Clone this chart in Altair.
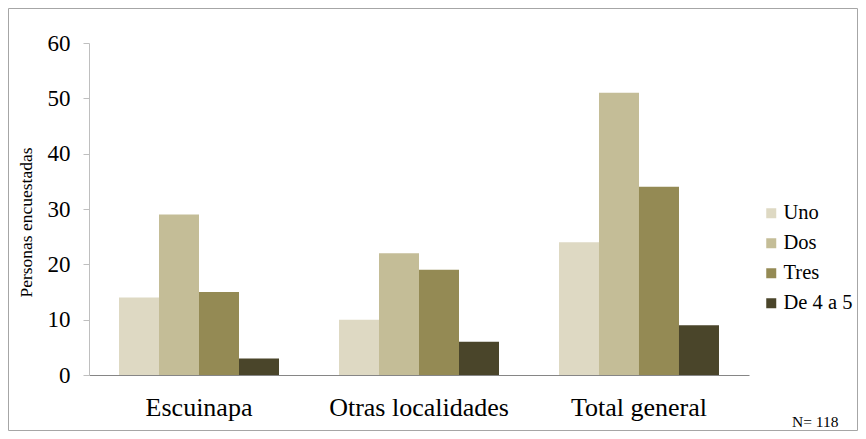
import altair as alt
import pandas as pd

groups = ["Escuinapa", "Otras localidades", "Total general"]
series = ["Uno", "Dos", "Tres", "De 4 a 5"]
uno = [14, 10, 24]
dos = [29, 22, 51]
tres = [15, 19, 34]
cuatro_cinco = [3, 6, 9]
y_ticks = [0, 10, 20, 30, 40, 50, 60]
colors = ["#DED9C3", "#C4BD97", "#948A54", "#4A452A"]
y_title = "Personas encuestadas"
note = "N= 118"

rows = []
for i, g in enumerate(groups):
    for s, vals in zip(series, [uno, dos, tres, cuatro_cinco]):
        rows.append({"grupo": g, "serie": s, "valor": vals[i]})
df = pd.DataFrame(rows)

FONT = "Liberation Serif"

bars = alt.Chart(df).mark_bar().encode(
    x=alt.X("grupo:N", sort=groups,
            scale=alt.Scale(paddingInner=0.2727, paddingOuter=0.1364),
            axis=alt.Axis(title=None, labelAngle=0, ticks=False, tickSize=0,
                          labelPadding=19, labelFontSize=26, labelFont=FONT,
                          labelColor="#000000", domainColor="#868686",
                          domainWidth=1.2)),
    xOffset=alt.XOffset("serie:N", sort=series,
                        scale=alt.Scale(paddingInner=0, paddingOuter=0)),
    y=alt.Y("valor:Q", scale=alt.Scale(domain=[0, 60], nice=False),
            axis=alt.Axis(title=y_title, values=y_ticks,
                          grid=False, tickSize=6, tickColor="#BFBFBF",
                          domainColor="#BFBFBF", labelPadding=13,
                          labelFontSize=23, labelFont=FONT, labelColor="#000000",
                          titleFontSize=17.5, titleFontWeight="normal", titleFont=FONT,
                          titleColor="#000000", titleX=-58, titleY=179,
                          titleBaseline="alphabetic")),
    color=alt.Color("serie:N", sort=series,
                    scale=alt.Scale(domain=series, range=colors),
                    legend=alt.Legend(title=None, orient="none", legendX=672, legendY=160,
                                      symbolType="square", symbolSize=100,
                                      symbolStrokeWidth=0, labelFontSize=20.5,
                                      labelColor="#000000", labelFont=FONT,
                                      rowPadding=9, labelOffset=2, padding=0)),
)

meta = pd.DataFrame({"t": [note]})

note_text = alt.Chart(meta).mark_text(
    align="left", baseline="alphabetic", fontSize=15.5, font=FONT, color="#000000"
).encode(x=alt.value(703), y=alt.value(384), text="t:N")

border = alt.Chart(meta).mark_rect(
    fillOpacity=0, stroke="#A6A6A6", strokeWidth=1
).encode(x=alt.value(-80.5), x2=alt.value(768.5), y=alt.value(-34.5), y2=alt.value(387.5))

chart = alt.layer(border, bars, note_text).properties(
    width=660, height=332,
    autosize=alt.AutoSizeParams(type="none"),
    padding={"left": 81, "top": 35, "right": 109, "bottom": 56},
    background="#FFFFFF",
).configure(font=FONT).configure_view(stroke=None)

chart.save("out.html", embed_options={"renderer": "svg", "actions": False})
